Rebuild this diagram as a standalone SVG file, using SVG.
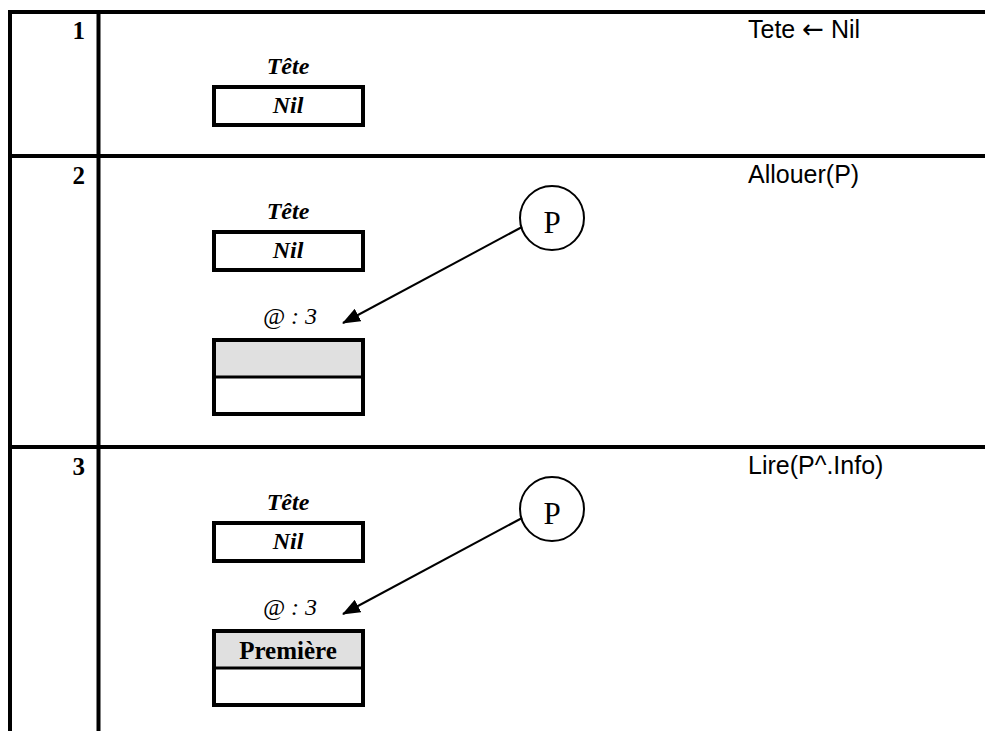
<svg xmlns="http://www.w3.org/2000/svg" width="985" height="731" viewBox="0 0 985 731">
<style>
.grid{stroke:#000;stroke-width:4;fill:none}
.box{fill:#fff;stroke:#000;stroke-width:4}
.sep{stroke:#000;stroke-width:3}
.shade{fill:#e0e0e0}
.num{font-family:"Liberation Serif","Times New Roman",serif;font-weight:bold;font-size:25px;text-anchor:end}
.lbl{font-family:"Liberation Serif","Times New Roman",serif;font-weight:bold;font-style:italic;font-size:24px;text-anchor:middle}
.addr{font-family:"Liberation Serif","Times New Roman",serif;font-style:italic;font-size:24px;text-anchor:middle}
.info{font-family:"Liberation Serif","Times New Roman",serif;font-weight:bold;font-size:25px;text-anchor:middle}
.ptr{fill:#fff;stroke:#000;stroke-width:2}
.ptrt{font-family:"Liberation Serif","Times New Roman",serif;font-size:31px;text-anchor:middle}
.op{font-family:"Liberation Sans",Arial,sans-serif;font-size:25px}
.arr{font-family:"DejaVu Sans",sans-serif;font-size:26px}
.conn{stroke:#000;stroke-width:2;fill:none}
</style>
<defs>
<marker id="ah" markerWidth="18" markerHeight="14" refX="17" refY="7" orient="auto" markerUnits="userSpaceOnUse">
<path d="M0,0 L18,7 L0,14 Z" fill="#000"/>
</marker>
</defs>
<rect width="985" height="731" fill="#fff"/>
<g id="table" class="grid">
<line x1="8" y1="12" x2="985" y2="12"/>
<line x1="10" y1="10" x2="10" y2="731"/>
<line x1="98.5" y1="10" x2="98.5" y2="731"/>
<line x1="8" y1="156" x2="985" y2="156"/>
<line x1="8" y1="447" x2="985" y2="447"/>
</g>
<g id="row-numbers">
<text class="num" x="85" y="39">1</text>
<text class="num" x="85" y="184">2</text>
<text class="num" x="85" y="475">3</text>
</g>
<g id="operations">
<text class="op" x="748" y="38">Tete <tspan class="arr">←</tspan> Nil</text>
<text class="op" x="748" y="183">Allouer(P)</text>
<text class="op" x="748" y="474">Lire(P^.Info)</text>
</g>
<g id="tete1">
<text class="lbl" x="288" y="74">Tête</text>
<rect class="box" x="214" y="87" width="149" height="38"/>
<text class="lbl" x="288" y="113">Nil</text>
</g>
<g id="tete2">
<text class="lbl" x="288" y="219">Tête</text>
<rect class="box" x="214" y="232" width="149" height="38"/>
<text class="lbl" x="288" y="258">Nil</text>
</g>
<g id="cell2">
<text class="addr" x="290" y="324">@ : 3</text>
<rect class="box" x="214" y="340" width="149" height="74"/>
<rect class="shade" x="216" y="342" width="145" height="34"/>
<line class="sep" x1="214" y1="377" x2="363" y2="377"/>
</g>
<g id="p2">
<circle class="ptr" cx="552" cy="218" r="32"/>
<text class="ptrt" x="552" y="233">P</text>
</g>
<g id="tete3">
<text class="lbl" x="288" y="510">Tête</text>
<rect class="box" x="214" y="523" width="149" height="38"/>
<text class="lbl" x="288" y="549">Nil</text>
</g>
<g id="cell3">
<text class="addr" x="290" y="615">@ : 3</text>
<rect class="box" x="214" y="631" width="149" height="74"/>
<rect class="shade" x="216" y="633" width="145" height="34"/>
<line class="sep" x1="214" y1="668" x2="363" y2="668"/>
<text class="info" x="288" y="659">Première</text>
</g>
<g id="p3">
<circle class="ptr" cx="552" cy="509" r="32"/>
<text class="ptrt" x="552" y="524">P</text>
</g>
<g id="connectors">
<line class="conn" x1="522" y1="227" x2="343" y2="323" marker-end="url(#ah)"/>
<line class="conn" x1="522" y1="518" x2="343" y2="614" marker-end="url(#ah)"/>
</g>
</svg>
